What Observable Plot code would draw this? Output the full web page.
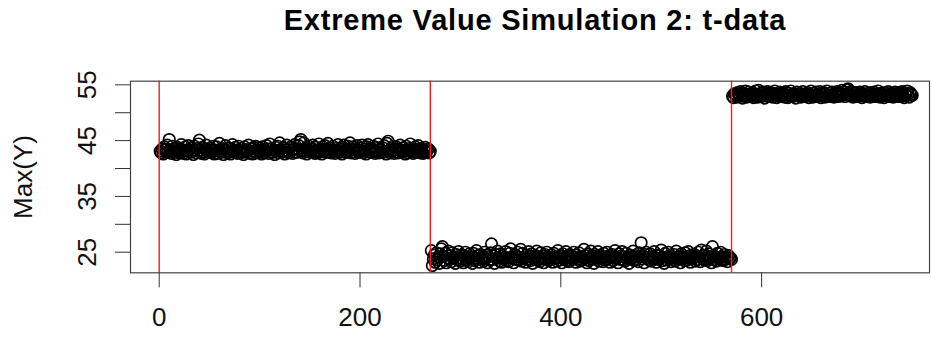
<!DOCTYPE html>
<html>
<head>
<meta charset="utf-8">
<script src="https://cdn.jsdelivr.net/npm/d3@7"></script>
<script src="https://cdn.jsdelivr.net/npm/@observablehq/plot@0.6"></script>
<style>
  html, body { margin: 0; padding: 0; background: #fff; }
  #wrap { width: 932px; height: 337px; overflow: hidden; }
  #title {
    width: 932px; height: 42px; box-sizing: border-box; padding-left: 138px; padding-top: 4px;
    text-align: center; line-height: 42px;
    font: bold 29px "Liberation Sans", Arial, sans-serif; letter-spacing: 0.8px; color: #000;
  }
</style>
</head>
<body>
<div id="wrap">
  <div id="title">Extreme Value Simulation 2: t-data</div>
  <div id="chart"></div>
</div>
<script>
// Segment values (index runs 1..750)
const seg1 = [
43.1,42.8,43.5,42.6,43.9,43.3,42.9,44.2,43.0,45.2,
43.4,42.7,44.0,43.2,42.9,43.6,42.5,43.8,43.1,42.8,
43.5,44.3,43.0,42.7,43.3,43.9,42.6,43.2,44.1,43.4,
42.9,43.7,43.1,42.5,44.0,43.3,42.8,43.6,44.4,45.1,
43.2,42.7,43.8,43.0,42.6,43.5,44.2,43.1,42.9,43.4,
43.7,42.8,43.2,44.0,42.6,43.3,43.9,42.7,43.1,44.5,
43.0,42.9,43.6,42.5,43.4,44.1,43.2,42.8,43.7,43.0,
42.6,43.5,44.3,43.1,42.9,43.8,43.3,42.7,44.0,43.2,
42.8,43.6,43.0,42.5,43.9,43.4,42.9,43.2,44.2,42.7,
43.5,43.1,42.6,43.8,43.0,44.0,42.8,43.3,43.7,42.9,
43.2,42.6,43.9,43.4,42.8,43.1,44.1,43.5,42.7,44.4,
43.0,43.6,42.9,43.3,42.5,43.8,43.2,44.0,42.8,44.6,
43.4,42.9,43.1,43.7,42.6,43.3,44.2,43.0,42.8,43.6,
43.9,43.2,42.7,43.5,44.3,43.0,42.9,43.4,44.1,44.8,
45.2,43.3,42.8,44.6,43.1,43.7,42.6,43.4,44.0,43.2,
42.9,43.6,44.2,43.0,42.7,43.8,43.3,42.8,44.4,43.1,
43.5,42.6,43.9,43.2,44.1,42.9,43.4,44.5,43.0,43.7,
42.8,43.3,44.0,43.1,42.7,43.6,43.2,44.3,42.9,43.5,
43.0,42.6,43.8,44.2,43.3,42.9,43.5,44.0,43.1,44.6,
42.8,43.4,43.9,43.0,42.7,43.6,44.1,43.2,42.9,43.3,
43.7,44.2,42.8,43.1,43.5,42.6,43.9,44.3,43.0,43.4,
42.9,43.6,44.0,43.2,42.7,43.8,43.1,44.4,42.8,43.5,
43.3,42.9,43.7,44.1,43.0,42.6,44.5,44.9,43.2,42.8,
43.6,43.1,44.0,42.7,43.4,43.9,43.0,42.8,43.5,44.2,
43.2,42.9,43.7,43.1,42.6,44.0,43.3,42.8,43.6,44.4,
43.0,43.5,42.7,43.2,43.9,42.9,43.4,44.1,43.1,42.8,
43.6,43.0,42.7,43.3,43.8,42.9,43.2,43.5,42.8,43.1
];
const seg2 = [
25.3,22.6,23.8,24.5,23.2,24.9,23.6,24.1,23.0,24.7,
25.6,26.0,24.3,23.5,24.8,23.1,24.0,25.2,23.7,24.4,
23.3,24.9,23.9,24.2,23.0,24.6,23.6,25.1,24.0,23.4,
24.5,23.8,23.1,24.3,25.0,23.6,24.1,23.3,24.7,23.9,
24.2,23.0,24.8,23.5,24.0,25.3,23.7,24.4,23.2,24.6,
23.8,24.1,23.4,25.0,23.9,24.5,23.1,24.2,23.6,24.9,
26.5,23.7,24.3,23.0,24.6,23.9,25.2,24.0,23.4,24.7,
23.2,24.4,23.8,24.1,25.1,23.5,24.0,23.3,24.8,25.6,
23.9,24.2,23.1,24.6,23.7,24.3,25.0,23.6,24.1,25.5,
23.4,24.8,23.9,24.0,23.2,24.5,23.8,25.1,24.2,23.5,
24.7,23.0,24.1,23.7,24.4,25.2,23.6,24.0,23.3,24.9,
23.8,24.3,23.1,24.6,23.9,25.0,24.2,23.5,24.0,23.7,
24.5,23.2,24.8,23.9,24.1,23.4,25.3,24.0,23.6,24.4,
23.1,24.7,23.8,24.2,25.1,23.5,24.0,23.3,24.6,23.9,
24.3,23.7,25.0,24.1,23.2,24.5,23.8,24.9,23.4,24.2,
23.6,24.0,25.5,23.9,24.4,23.1,24.7,23.5,24.1,25.2,
23.8,24.3,23.0,24.6,23.7,24.0,25.1,23.4,24.5,23.9,
24.2,23.3,24.8,23.6,24.1,25.0,23.8,24.4,23.2,24.0,
24.6,23.5,24.2,25.3,23.9,24.0,23.1,24.7,23.7,24.3,
25.1,23.6,24.1,23.4,24.8,23.9,24.2,23.0,24.5,23.8,
24.0,25.2,23.5,24.4,23.7,24.1,23.3,24.9,24.2,26.7,
23.8,24.3,23.1,24.6,25.0,23.9,24.0,23.6,24.7,23.4,
24.2,23.8,25.1,24.0,23.2,24.5,23.7,24.3,23.9,25.4,
23.5,24.1,23.0,24.8,23.6,24.2,25.0,23.9,24.4,23.3,
24.0,23.7,24.6,23.4,25.2,24.1,23.8,24.3,23.1,24.7,
23.9,24.2,23.5,24.9,24.0,23.6,25.1,24.3,23.2,24.5,
23.8,24.0,24.6,23.4,24.2,23.7,25.0,24.1,23.3,25.4,
23.9,24.4,23.6,24.0,25.2,23.5,24.7,23.8,24.2,23.1,
26.0,24.3,23.7,24.1,23.4,24.8,23.9,24.0,25.0,23.6,
24.2,23.5,24.6,23.8,24.1,23.3,24.4,23.9,24.0,23.7
];
const seg3 = [
53.0,52.7,53.4,53.1,52.8,53.6,53.2,52.9,53.8,53.3,
52.6,53.5,53.0,53.9,52.8,53.2,53.7,53.1,52.9,53.4,
53.6,52.7,53.3,53.9,53.0,52.8,54.0,53.2,53.5,52.9,
53.1,53.7,52.6,53.4,53.0,53.8,52.9,53.3,53.6,53.1,
52.8,53.5,53.9,53.2,52.7,53.4,53.0,53.7,52.9,53.3,
53.6,53.1,52.8,53.8,53.2,52.7,53.5,53.0,53.9,53.3,
52.9,53.4,53.1,52.6,53.7,53.2,53.0,53.5,52.8,53.3,
53.8,53.1,52.9,53.4,53.0,53.6,52.7,53.2,53.9,53.0,
52.8,53.5,53.2,53.7,52.9,53.3,53.0,53.8,52.7,53.4,
53.1,53.6,52.8,53.3,53.9,53.0,52.9,53.5,53.2,53.7,
53.0,52.8,53.4,53.1,53.8,52.9,53.3,53.6,53.0,54.0,
53.2,53.7,52.9,53.4,54.1,54.3,53.5,53.0,53.8,53.2,
52.8,53.5,53.1,53.6,52.9,53.3,53.0,53.7,53.2,52.7,
53.4,53.0,53.8,52.9,53.2,53.5,53.1,52.8,53.6,53.3,
53.0,53.7,52.9,53.2,53.4,53.9,53.1,52.8,53.5,53.0,
53.3,52.7,53.6,53.2,53.0,53.8,52.9,53.4,53.1,53.5,
52.8,53.2,53.7,53.0,53.4,52.9,53.6,53.1,53.3,53.8,
53.0,52.7,53.5,53.2,53.9,53.4,52.8,53.6,53.3,53.1
];
const changePoints = [0, 270, 570];
const xTicks = [0, 200, 400, 600];
const yTicks = [25, 30, 35, 40, 45, 50, 55];
const yLabels = [25, 35, 45, 55];

const values = [...seg1, ...seg2, ...seg3];
const points = values.map((v, i) => ({index: i + 1, value: v}));

const FONT = '"Liberation Sans", Arial, sans-serif';
const chart = Plot.plot({
  width: 932,
  height: 295,
  marginLeft: 130,
  marginRight: 3,
  marginTop: 38.7,
  marginBottom: 64.7,
  style: {fontFamily: FONT, fontSize: "26px", background: "#fff", color: "#000", overflow: "visible"},
  x: {domain: [-28.6, 767.2]},
  y: {domain: [21.31, 55.65]},
  marks: [
    Plot.dot(points, {x: "index", y: "value", r: 5.7, stroke: "#000", strokeWidth: 1.7, fill: "none"}),
    Plot.ruleX(changePoints, {stroke: "#ff1a1a", strokeWidth: 1.4}),
    Plot.frame({stroke: "#444", strokeWidth: 1.2}),
    Plot.axisX({ticks: xTicks, tickSize: 15, tickPadding: 19.5, fontSize: 26, label: null, stroke: "#333", fill: "#111"}),
    Plot.axisY({ticks: yTicks, tickSize: 15, tickPadding: 20, tickRotate: -90, fontSize: 26, label: null,
      tickFormat: d => yLabels.includes(d) ? String(d) : "", stroke: "#333", fill: "#111"}),
    Plot.text(["Max(Y)"], {frameAnchor: "left", dx: -107, rotate: -90, fontSize: 26, fill: "#111", textAnchor: "middle", lineAnchor: "middle"})
  ]
});
document.getElementById("chart").appendChild(chart);
</script>
</body>
</html>
